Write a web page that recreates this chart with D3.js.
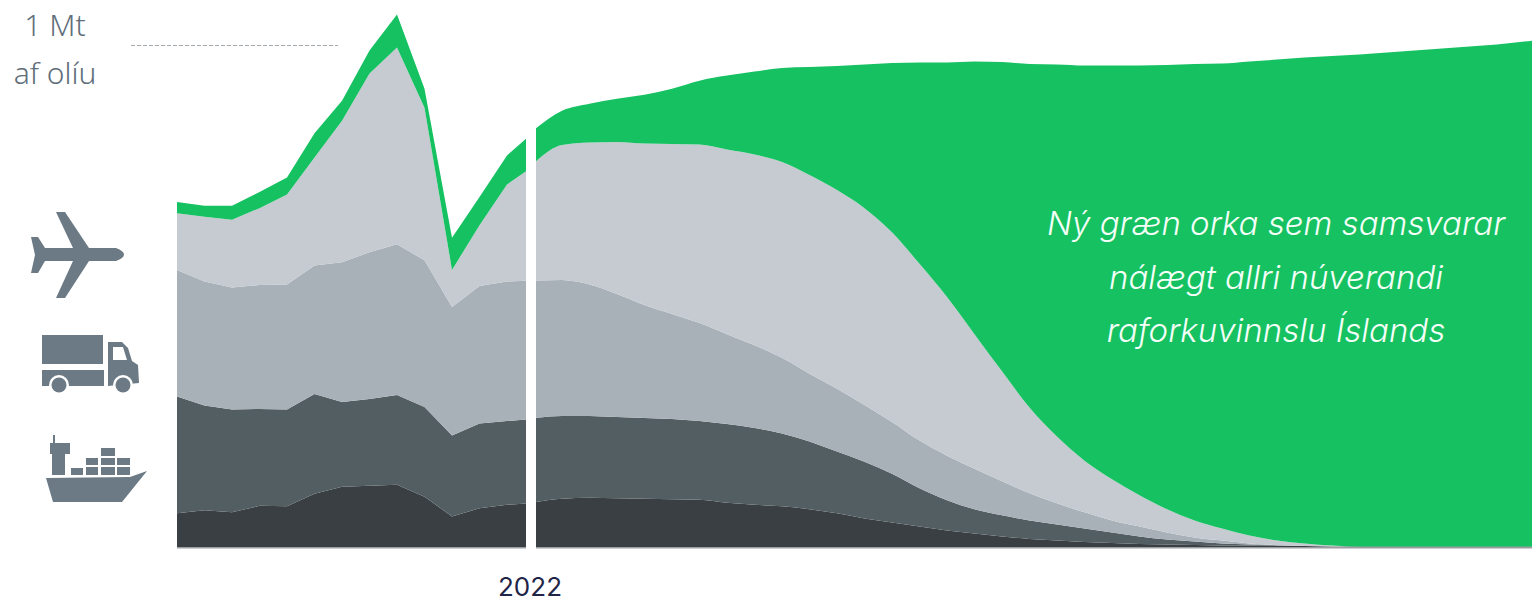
<!DOCTYPE html>
<html>
<head>
<meta charset="utf-8">
<title>Olíunotkun</title>
<script src="https://cdn.jsdelivr.net/npm/d3@7/dist/d3.min.js"></script>
<style>
  html, body { margin: 0; padding: 0; background: #fff; overflow: hidden; }
  svg { display: block; }
</style>
</head>
<body>
<div id="vis"></div>
<script>
// kt of oil (green = equivalent new green energy)
var seriesnames = ["skip", "fiskur", "vegir", "flug", "graen"];
var seriescolors = ["#393f43", "#535e63", "#a8b1b8", "#c5cbd0", "#16c162"];

var histyears = [2009,2010,2011,2012,2013,2014,2015,2016,2017,2018,2019,2020,2021,2022];
var hist_skip   = [68,74,70,83,82,107,121,123,125,101,62,78,85,89];
var hist_fiskur = [233,209,205,193,193,199,169,173,179,179,161,169,167,167];
var hist_vegir  = [252,247,243,247,249,256,278,292,300,292,256,274,278,276];
var hist_flug   = [113,129,135,153,179,215,282,356,392,304,74,121,193,229];
var hist_graen  = [22,22,28,32,34,48,40,46,66,38,64,56,58,68];

var foreyears = [2022,2023,2024,2025,2026,2027,2028,2029,2030,2031,2032,2033,2034,2035,2036,2037,2038,2039,2040,
                 2041,2042,2043,2044,2045,2046,2047,2048,2049,2050,2051,2052,2053,2054,2055,2056,2057,2058,2059];
var fore_skip   = [90,97,99,98,97,96,95,89,85,82,76,68,58,50,42,34,28,22,17,14,11,9,7,6,5,4,4,3,3,2,2,2,2,2,2,2,2,2];
var fore_fiskur = [168,165,163,162,161,160,157,157,153,145,135,123,113,97,76,60,48,42,37,32,27,21,15,10,7,4,2,1,0,0,0,0,0,0,0,0,0,0];
var fore_vegir  = [274,271,262,245,225,209,195,179,165,151,135,125,113,103,95,89,81,68,54,42,32,24,20,14,8,6,2,1,0,0,0,0,0,0,0,0,0,0];
var fore_flug   = [235,269,283,303,322,339,356,368,380,390,396,396,392,378,352,316,268,219,171,133,103,82,62,46,34,24,16,9,5,2,0,0,0,0,0,0,0,0];
var fore_graen  = [66,68,77,86,97,110,127,147,165,187,215,247,286,337,401,467,543,616,684,741,787,824,856,885,909,926,944,958,968,975,980,984,988,992,996,1000,1006,1012];

var yticklabels = ["1 Mt", "af olíu"];
var xticks = [2022];
var notelines = ["Ný græn orka sem samsvarar", "nálægt allri núverandi", "raforkuvinnslu Íslands"];

var width = 1532, height = 600;
var x = d3.scaleLinear().domain([2009, 2059]).range([177, 1552]);
var y = d3.scaleLinear().domain([0, 1000]).range([547.5, 45.5]);

var svg = d3.select("#vis").append("svg").attr("width", width).attr("height", height);
var defs = svg.append("defs");
defs.append("clipPath").attr("id", "cliphist").append("rect").attr("x", 177).attr("y", 0).attr("width", 349).attr("height", height);
defs.append("clipPath").attr("id", "clipfore").append("rect").attr("x", 536).attr("y", 0).attr("width", width - 536).attr("height", height);

function toRows(years, cols) {
  return years.map(function(yr, i) {
    var row = { year: yr };
    seriesnames.forEach(function(n, j) { row[n] = cols[j][i]; });
    return row;
  });
}

function drawStack(rows, clipid, curve) {
  var layers = d3.stack().keys(seriesnames)(rows);
  var area = d3.area()
    .curve(curve)
    .x(function(d) { return x(d.data.year); })
    .y0(function(d) { return y(d[0]); })
    .y1(function(d) { return y(d[1]); });
  var g = svg.append("g").attr("clip-path", "url(#" + clipid + ")");
  g.selectAll("path").data(layers).enter().append("path")
    .attr("d", area)
    .attr("fill", function(d, i) { return seriescolors[i]; });
  // thin grey floor under the stack
  g.append("line")
    .attr("x1", 0).attr("x2", width)
    .attr("y1", y(0) + 0.5).attr("y2", y(0) + 0.5)
    .attr("stroke", "#9a9fa3").attr("stroke-width", 1);
}

drawStack(toRows(histyears, [hist_skip, hist_fiskur, hist_vegir, hist_flug, hist_graen]), "cliphist", d3.curveLinear);
drawStack(toRows(foreyears, [fore_skip, fore_fiskur, fore_vegir, fore_flug, fore_graen]), "clipfore", d3.curveMonotoneX);

// 1 Mt reference
svg.append("line")
  .attr("x1", 131).attr("x2", 338)
  .attr("y1", y(1000)).attr("y2", y(1000))
  .attr("stroke", "#a4abb0").attr("stroke-width", 1)
  .attr("stroke-dasharray", "4,2");

svg.selectAll(".ylabel").data(yticklabels).enter().append("text")
  .attr("class", "ylabel")
  .attr("x", 55)
  .attr("y", function(d, i) { return 36 + i * 48; })
  .attr("text-anchor", "middle")
  .style("font-family", "'Noto Sans'")
  .style("font-size", "30px")
  .style("font-weight", 300)
  .style("fill", "#5f6e79")
  .text(function(d) { return d; });

// year label
var xaxis = d3.axisBottom(x).tickValues(xticks).tickFormat(d3.format("d")).tickSize(0);
var xg = svg.append("g").attr("transform", "translate(0,547)").call(xaxis);
xg.select(".domain").remove();
xg.selectAll("text")
  .attr("dx", -5)
  .attr("y", 31)
  .attr("dy", "0.71em")
  .style("font-family", "Inter")
  .style("font-size", "26px")
  .style("fill", "#1f2547");

svg.selectAll(".note").data(notelines).enter().append("text")
  .attr("class", "note")
  .attr("x", 1276)
  .attr("y", function(d, i) { return 235 + i * 53.5; })
  .attr("text-anchor", "middle")
  .style("font-family", "Inter")
  .style("font-style", "italic")
  .style("font-weight", 300)
  .style("font-size", "33px")
  .style("fill", "#f4fff8")
  .text(function(d) { return d; });

// icons
var iconcolor = "#6b7a85";
var icons = svg.append("g").attr("fill", iconcolor);

icons.append("path").attr("d",
  "M56,212 L65,212 L89,248 L116,248 Q124,251 124,254.5 Q124,258 116,261 L89,261 L65,298 L56,298 L73,261 " +
  "L45,261 L38,273 L31,273 L35,255 L31,237 L38,237 L45,248 L73,248 Z");

// truck
icons.append("rect").attr("x", 42).attr("y", 335).attr("width", 61).attr("height", 29);
icons.append("rect").attr("x", 42).attr("y", 370).attr("width", 62).attr("height", 16);
icons.append("path").attr("d",
  "M108,342 L122,342 L128,348 L132,361 L138,365 L139,383 L108,386 Z M113,347 L113,360 L127,360 L123,347 Z")
  .attr("fill-rule", "evenodd");
[59, 123].forEach(function(cx) {
  icons.append("circle").attr("cx", cx).attr("cy", 385).attr("r", 10).attr("fill", "#fff");
  icons.append("circle").attr("cx", cx).attr("cy", 385).attr("r", 7.5);
});

// ship
icons.append("path").attr("d",
  "M46,478 L130,477 L147,471 L122,502 L53,502 Z");
icons.append("path").attr("d",
  "M53,435 L55,435 L55,443 L70,443 L70,454 L65,454 L65,475 L52,475 L52,454 L50,454 L50,443 L53,443 Z");
[[71,468,12,7],[86,467,12,8],[101,467,14,8],[117,467,13,8],
 [86,458,12,7],[101,458,14,7],[117,458,13,7],[101,448,14,8]].forEach(function(b) {
  icons.append("rect").attr("x", b[0]).attr("y", b[1]).attr("width", b[2]).attr("height", b[3]);
});
</script>
</body>
</html>
